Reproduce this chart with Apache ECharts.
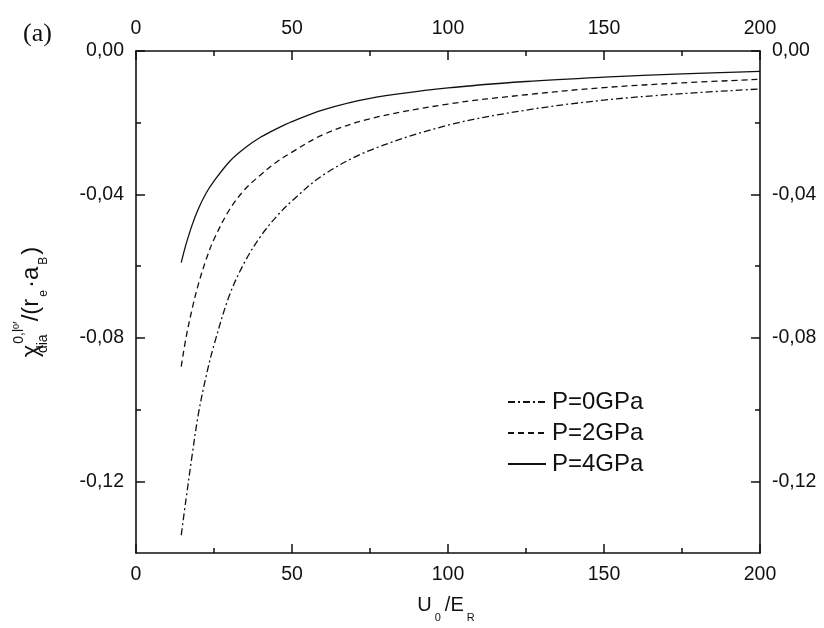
<!DOCTYPE html>
<html>
<head>
<meta charset="utf-8">
<script src="https://cdn.jsdelivr.net/npm/echarts@6/dist/echarts.min.js"></script>
<style>html,body{margin:0;padding:0;background:#fff;}#c{width:824px;height:628px;}</style>
</head>
<body>
<div id="c"></div>
<script>
// U0/ER sample positions
const uValues = [14.5, 16, 18, 20, 22.5, 25, 30, 35, 40, 45, 50, 60, 75, 100, 125, 150, 175, 200];
// chi values
const p0GPa = [-0.1350, -0.1252, -0.1127, -0.1012, -0.0906, -0.0820, -0.0680, -0.0586, -0.0516, -0.0462, -0.0418, -0.0346, -0.0277, -0.0207, -0.0165, -0.0137, -0.0119, -0.0106];
const p2GPa = [-0.0880, -0.0801, -0.0719, -0.0650, -0.0581, -0.0525, -0.0442, -0.0385, -0.0345, -0.0310, -0.0282, -0.0233, -0.0189, -0.0148, -0.0122, -0.0102, -0.0089, -0.0079];
const p4GPa = [-0.0590, -0.0540, -0.0485, -0.0440, -0.0396, -0.0363, -0.0308, -0.0270, -0.0240, -0.0217, -0.0197, -0.0164, -0.0132, -0.0103, -0.0085, -0.0073, -0.0064, -0.0057];
const seriesNames = ['P=0GPa', 'P=2GPa', 'P=4GPa'];
const yMajorTicks = [0, -0.04, -0.08, -0.12];
const yMinorTicks = [-0.02, -0.06, -0.10];

const pairs = arr => uValues.map((u, i) => [u, arr[i]]);
const fmtY = v => (Math.abs(v) < 1e-9 ? 0 : v).toFixed(2).replace('.', ',');
const FONT = 'Liberation Sans';
const labelStyle = { color: '#111', fontFamily: FONT, fontSize: 19.5 };
const axisLine = { show: true, onZero: false, lineStyle: { color: '#111', width: 1.6 } };

function xAxisDef(pos, showName) {
  return {
    type: 'value', position: pos, min: 0, max: 200, interval: 50,
    axisLine: axisLine,
    axisTick: { show: true, inside: true, length: 9, lineStyle: { color: '#111', width: 1.5 } },
    minorTick: { show: true, splitNumber: 2, length: 5, lineStyle: { color: '#111', width: 1.5 } },
    axisLabel: Object.assign({ margin: 12 }, labelStyle),
    splitLine: { show: false }, minorSplitLine: { show: false },
    name: showName ? '{m|U}{s|0}{m|/E}{s|R}' : '',
    nameLocation: 'middle', nameGap: 34,
    nameTextStyle: {
      rich: {
        m: { fontFamily: FONT, fontSize: 20, color: '#111', lineHeight: 36, verticalAlign: 'middle' },
        s: { fontFamily: FONT, fontSize: 11, color: '#111', lineHeight: 18, verticalAlign: 'bottom', padding: [0, 4, 0, 3] }
      }
    }
  };
}
function yAxisMajor(pos, showName) {
  return {
    type: 'value', position: pos, min: -0.14, max: 0,
    axisLine: axisLine,
    axisTick: { show: true, inside: true, length: 9, customValues: yMajorTicks, lineStyle: { color: '#111', width: 1.5 } },
    axisLabel: Object.assign({ margin: 12, customValues: yMajorTicks, formatter: fmtY }, labelStyle),
    splitLine: { show: false },
    name: showName ? '{m|χ}{subz|dia}{sup|0,l}{sup0|0}{sup|′}{m|/(r}{sub|e}{m|·a}{sub|B}{m|)}' : '',
    nameLocation: 'middle', nameRotate: 90, nameGap: 86,
    nameTextStyle: {
      rich: {
        m: { fontFamily: FONT, fontSize: 24, color: '#111', lineHeight: 38, verticalAlign: 'middle' },
        subz: { fontFamily: FONT, fontSize: 14, color: '#111', lineHeight: 21, verticalAlign: 'bottom', width: 0, padding: [0, 0, 0, 1] },
        sub: { fontFamily: FONT, fontSize: 12, color: '#111', lineHeight: 20, verticalAlign: 'bottom', padding: [0, 2, 0, 2] },
        sup: { fontFamily: FONT, fontSize: 14, color: '#111', lineHeight: 24, verticalAlign: 'top' },
        sup0: { fontFamily: FONT, fontSize: 9, color: '#111', lineHeight: 29, verticalAlign: 'top' }
      }
    }
  };
}
function yAxisMinor(pos) {
  return {
    type: 'value', position: pos, min: -0.14, max: 0,
    axisLine: { show: false, onZero: false },
    axisTick: { show: true, inside: true, length: 5, customValues: yMinorTicks, lineStyle: { color: '#111', width: 1.5 } },
    axisLabel: { show: false },
    splitLine: { show: false }
  };
}
const lineStyles = [
  { color: '#111', width: 1.3, type: [7, 3, 2, 3] },
  { color: '#111', width: 1.3, type: [6, 4] },
  { color: '#111', width: 1.3, type: 'solid' }
];
const dataSets = [p0GPa, p2GPa, p4GPa];

const chart = echarts.init(document.getElementById('c'), null, { renderer: 'canvas' });
chart.setOption({
  backgroundColor: '#fff',
  animation: false,
  grid: { left: 136, right: 64, top: 51, bottom: 74, containLabel: false },
  xAxis: [xAxisDef('bottom', true), xAxisDef('top', false)],
  yAxis: [yAxisMajor('left', true), yAxisMajor('right', false), yAxisMinor('left'), yAxisMinor('right')],
  legend: {
    orient: 'vertical', left: 502, top: 385, itemWidth: 38, itemHeight: 14, itemGap: 7,
    itemStyle: { opacity: 0 },
    textStyle: { fontFamily: FONT, fontSize: 24, color: '#111', padding: [0, 0, 0, 1] },
    data: seriesNames
  },
  graphic: [{
    type: 'text', left: 23, top: 21,
    style: { text: '(a)', fontFamily: 'Liberation Serif', fontSize: 26, fill: '#111' }
  }],
  series: dataSets.map((d, i) => ({
    name: seriesNames[i], type: 'line', data: pairs(d), smooth: 0.35,
    showSymbol: false, symbol: 'none', lineStyle: lineStyles[i], itemStyle: { color: '#111' },
    xAxisIndex: 0, yAxisIndex: 0
  }))
});
</script>
</body>
</html>
